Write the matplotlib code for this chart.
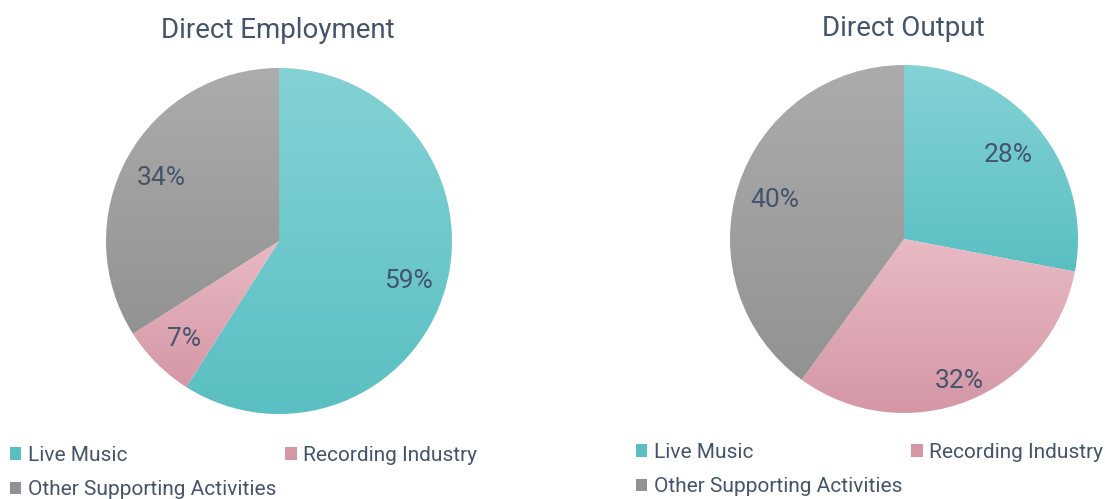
import numpy as np
import matplotlib.pyplot as plt
from matplotlib.colors import LinearSegmentedColormap
from matplotlib.patches import Patch

plt.rcParams['font.family'] = ['Roboto', 'DejaVu Sans']

# data
categories = ['Live Music', 'Recording Industry', 'Other Supporting Activities']
employment = [59, 7, 34]
output = [28, 32, 40]
titles = ['Direct Employment', 'Direct Output']

# top / bottom colours of each gradient
grads = [('#84d2d5', '#5abfc2'), ('#e9bac4', '#d497a5'), ('#acacac', '#929292')]
txt = '#44546a'

W, H = 1105, 499
fig = plt.figure(figsize=(W / 100, H / 100), dpi=100)


def pie_axes(cx, cy, r):
    # cx, cy in pixels from top-left
    return fig.add_axes([(cx - r) / W, (H - cy - r) / H, 2 * r / W, 2 * r / H])


def grad_pie(ax, vals, pd=0.78):
    wedges, texts, autos = ax.pie(vals, startangle=90, counterclock=False,
                                  autopct='%.0f%%', pctdistance=pd,
                                  wedgeprops=dict(linewidth=0),
                                  textprops=dict(color=txt, fontsize=19))
    for w, (c0, c1) in zip(wedges, grads):
        x0, y0, x1, y1 = w.get_path().get_extents().extents
        cmap = LinearSegmentedColormap.from_list('g', [c0, c1])
        im = ax.imshow(np.linspace(0, 1, 256)[:, None], cmap=cmap, origin='upper',
                       extent=(x0, x1, y0, y1), aspect='auto', zorder=1)
        im.set_clip_path(w)
        w.set_facecolor('none')
    for t in autos:
        t.set_zorder(3)
        t.set_va('center_baseline')
    ax.set_xlim(-1, 1)
    ax.set_ylim(-1, 1)
    ax.set_aspect('auto')
    ax.axis('off')
    return wedges, autos


ax1 = pie_axes(279, 241, 173)
grad_pie(ax1, employment)
ax2 = pie_axes(904, 239, 174)
w2, a2 = grad_pie(ax2, output)
# office put the 32% label further out
x, y = a2[1].get_position()
a2[1].set_position((x * 0.86 / 0.78, y * 0.86 / 0.78))

fig.text(278 / W, 1 - 31 / H, titles[0], ha='center', va='center', fontsize=20, color=txt)
fig.text(903 / W, 1 - 29 / H, titles[1], ha='center', va='center', fontsize=20, color=txt)

handles = [Patch(facecolor=c[1], edgecolor='none') for c in grads]
order = [0, 2, 1]
for x0, y0 in [(10, 446), (636, 443)]:
    fig.legend([handles[i] for i in order], [categories[i] for i in order],
               loc='upper left', bbox_to_anchor=(x0 / W, 1 - y0 / H), ncol=2,
               frameon=False, fontsize=15, labelcolor=txt, handlelength=0.55,
               handleheight=0.55, handletextpad=0.3, columnspacing=0.45,
               labelspacing=0.74, borderpad=0, borderaxespad=0)

fig.savefig('out.png', dpi=100, facecolor='white')
